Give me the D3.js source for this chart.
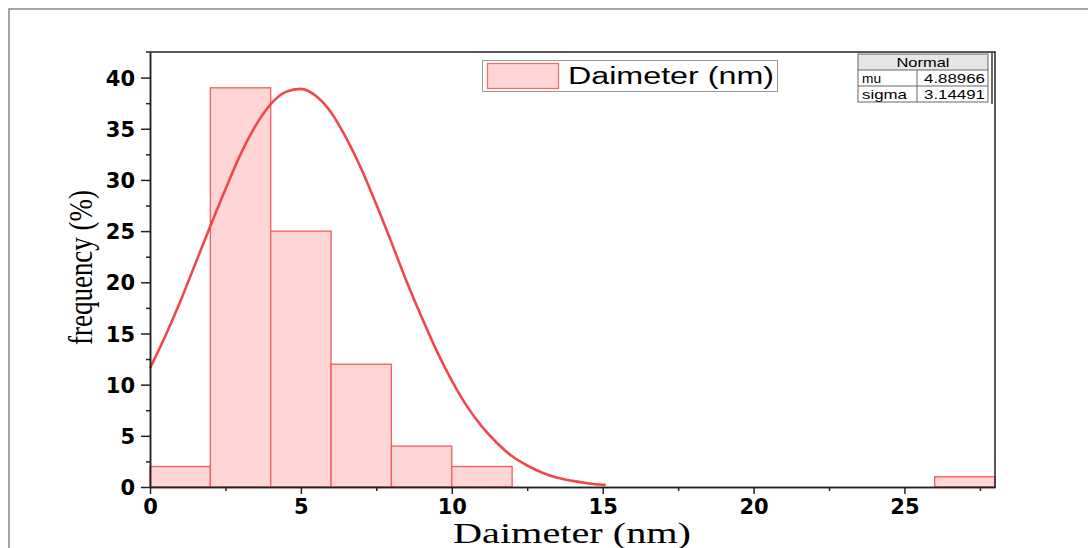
<!DOCTYPE html>
<html lang="en">
<head>
  <meta charset="UTF-8">
  <title>Daimeter histogram</title>
  <script src="https://d3js.org/d3.v7.min.js"></script>
  <style>
    body { margin: 0; background: #fff; }
    svg { display: block; }
    .tick text { font-family: "DejaVu Sans", Arial, sans-serif; font-weight: bold; font-size: 21px; fill: #000; }
    .axis path, .axis line { stroke: #222; stroke-width: 1.5; }
  </style>
</head>
<body>
  <svg width="1088" height="548"></svg>
  <script>
    // histogram bins (nm) and frequency
    const binStart = [0, 2, 4, 6, 8, 10, 26];
    const binEnd   = [2, 4, 6, 8, 10, 12, 28];
    const freq     = [2, 39, 25, 12, 4, 2, 1];

    // normal fit curve
    const curveX = [0, 0.5, 1, 1.5, 2, 2.5, 3, 3.5, 4, 4.5, 5, 5.5, 6, 6.5, 7, 7.5, 8, 8.5, 9, 9.5,
                    10, 10.5, 11, 11.5, 12, 12.5, 13, 13.5, 14, 14.5, 15, 15.1];
    const curveY = [11.6, 14.7, 18.1, 21.8, 25.5, 29.1, 32.5, 35.3, 37.4, 38.6, 38.9, 38.2, 36.6, 34.1, 31.1, 27.6,
                    23.9, 20.1, 16.6, 13.3, 10.4, 7.9, 5.9, 4.3, 3.0, 2.1, 1.4, 0.9, 0.6, 0.37, 0.22, 0.2];

    const xTicks = [0, 5, 10, 15, 20, 25];
    const xMinor = [2.5, 7.5, 12.5, 17.5, 22.5, 27.5];
    const yTicks = [0, 5, 10, 15, 20, 25, 30, 35, 40];
    const yMinor = [2.5, 7.5, 12.5, 17.5, 22.5, 27.5, 32.5, 37.5];

    const fitTitle = "Normal";
    const fitNames = ["mu", "sigma"];
    const fitValues = ["4.88966", "3.14491"];

    const svg = d3.select("svg");
    const margin = {top: 52, right: 93, bottom: 61, left: 150};
    const width = 1088 - margin.left - margin.right,
          height = 548 - margin.top - margin.bottom;

    // outer page frame (top and left edges only)
    svg.append("path")
      .attr("d", "M9,548V9H1088")
      .attr("fill", "none")
      .attr("stroke", "#888")
      .attr("stroke-width", 1.5);

    const g = svg.append("g").attr("transform", `translate(${margin.left},${margin.top})`);

    const x = d3.scaleLinear().domain([0, 28]).range([0, width]);
    const y = d3.scaleLinear().domain([0, 42.5]).range([height, 0]);

    // bars
    g.selectAll(".bar")
      .data(freq)
      .join("rect")
      .attr("class", "bar")
      .attr("x", (d, i) => x(binStart[i]))
      .attr("width", (d, i) => x(binEnd[i]) - x(binStart[i]))
      .attr("y", d => y(d))
      .attr("height", d => y(0) - y(d))
      .attr("fill", "#ffd5d6")
      .attr("stroke", "#f45c5c")
      .attr("stroke-width", 1.3);

    // fit curve
    const line = d3.line()
      .x((d, i) => x(curveX[i]))
      .y(d => y(d))
      .curve(d3.curveMonotoneX);

    g.append("path")
      .datum(curveY)
      .attr("d", line)
      .attr("fill", "none")
      .attr("stroke", "#f04848")
      .attr("stroke-width", 2.6);

    // axes
    g.append("g")
      .attr("class", "axis")
      .attr("transform", `translate(0,${height})`)
      .call(d3.axisBottom(x).tickValues(xMinor).tickSize(4).tickSizeOuter(0).tickFormat(""));
    g.append("g")
      .attr("class", "axis")
      .attr("transform", `translate(0,${height})`)
      .call(d3.axisBottom(x).tickValues(xTicks).tickSize(7).tickSizeOuter(0).tickPadding(5));

    g.append("g")
      .attr("class", "axis")
      .call(d3.axisLeft(y).tickValues(yMinor).tickSize(4).tickSizeOuter(0).tickFormat(""));
    g.append("g")
      .attr("class", "axis")
      .call(d3.axisLeft(y).tickValues(yTicks).tickSize(9).tickSizeOuter(0).tickPadding(6))
      .selectAll(".tick text").attr("dy", "0.36em");

    // top and right frame
    g.append("path")
      .attr("d", `M-4,0H${width}V${height}`)
      .attr("fill", "none")
      .attr("stroke", "#222")
      .attr("stroke-width", 1.5);

    // axis titles
    svg.append("text")
      .attr("x", 453)
      .attr("y", 543)
      .attr("font-family", "'Liberation Serif', 'Times New Roman', serif")
      .attr("font-size", 30)
      .attr("textLength", 238)
      .attr("lengthAdjust", "spacingAndGlyphs")
      .text("Daimeter (nm)");

    svg.append("text")
      .attr("transform", "translate(92,345) rotate(-90)")
      .attr("font-family", "'Liberation Serif', 'Times New Roman', serif")
      .attr("font-size", 33)
      .attr("textLength", 155)
      .attr("lengthAdjust", "spacingAndGlyphs")
      .text("frequency (%)");

    // legend
    svg.append("rect")
      .attr("x", 482.5).attr("y", 60.5).attr("width", 295).attr("height", 31)
      .attr("fill", "#fff").attr("stroke", "#999");
    svg.append("rect")
      .attr("x", 487.5).attr("y", 63.5).attr("width", 71).attr("height", 25)
      .attr("fill", "#ffd5d6").attr("stroke", "#f47070").attr("stroke-width", 1.3);
    svg.append("text")
      .attr("x", 568).attr("y", 84)
      .attr("font-family", "Arial, 'Liberation Sans', sans-serif")
      .attr("font-size", 23)
      .attr("textLength", 206)
      .attr("lengthAdjust", "spacingAndGlyphs")
      .text("Daimeter (nm)");

    // fit parameter table
    const tb = svg.append("g").attr("transform", "translate(858,54)");
    const tw = 130, rh = 16, colX = 59;
    tb.append("rect").attr("width", tw).attr("height", rh).attr("fill", "#e6e6e6");
    tb.append("rect").attr("width", tw).attr("height", rh * 3)
      .attr("fill", "none").attr("stroke", "#666").attr("stroke-width", 1);
    tb.selectAll(".hl").data([1, 2]).join("line")
      .attr("x1", 0).attr("x2", tw).attr("y1", d => d * rh).attr("y2", d => d * rh)
      .attr("stroke", "#666");
    tb.append("line").attr("x1", colX).attr("x2", colX).attr("y1", rh).attr("y2", rh * 3).attr("stroke", "#666");
    tb.append("path").attr("d", `M${tw + 4},-1V${rh * 3 + 2}`).attr("stroke", "#333").attr("stroke-width", 1.5).attr("fill", "none");

    const tfont = "Arial, 'Liberation Sans', sans-serif";
    tb.append("text").attr("x", tw / 2).attr("y", 12.5).attr("text-anchor", "middle")
      .attr("font-family", tfont).attr("font-size", 13)
      .attr("textLength", 53).attr("lengthAdjust", "spacingAndGlyphs").text(fitTitle);
    tb.selectAll(".nm").data(fitNames).join("text")
      .attr("x", 4).attr("y", (d, i) => (i + 1) * rh + 12.5)
      .attr("font-family", tfont).attr("font-size", 13)
      .attr("textLength", d => d === "mu" ? 19 : 45).attr("lengthAdjust", "spacingAndGlyphs")
      .text(d => d);
    tb.selectAll(".vl").data(fitValues).join("text")
      .attr("x", tw - 3).attr("y", (d, i) => (i + 1) * rh + 12.5).attr("text-anchor", "end")
      .attr("font-family", tfont).attr("font-size", 13)
      .attr("textLength", 61).attr("lengthAdjust", "spacingAndGlyphs")
      .text(d => d);
  </script>
</body>
</html>
